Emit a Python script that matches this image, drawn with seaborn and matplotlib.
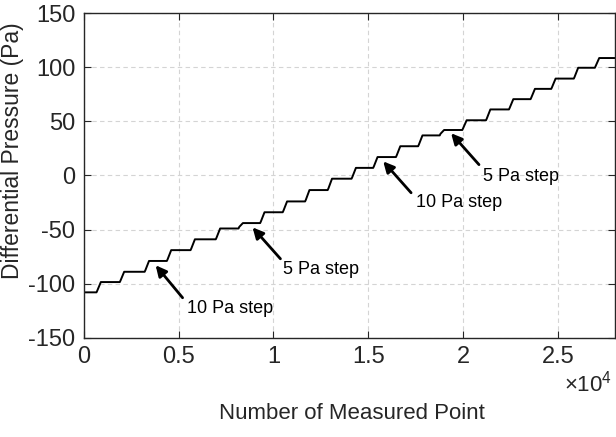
import matplotlib
matplotlib.use("Agg")
import matplotlib.pyplot as plt
import seaborn as sns

# pressure of each plateau (Pa)
levels = [-108, -98.5, -89, -79, -69, -59, -49, -44, -34, -24, -13.5, -3,
          7, 17, 27, 37, 42, 51, 61, 70.5, 80, 89.5, 99.5, 108.5]
# measured point where each plateau ends and the next rise begins
step_at = [670, 1900, 3210, 4380, 5630, 6960, 8160, 9300, 10490, 11670,
           12860, 14120, 15260, 16460, 17630, 18770, 19960, 21210, 22420,
           23560, 24650, 25840, 26950]
n_points = 28000

annot_text = ["10 Pa step", "5 Pa step", "10 Pa step", "5 Pa step"]
annot_tip = [(3790, -83), (8900, -48), (15790, 13), (19370, 39)]
annot_tail = [(5210, -113), (10370, -77), (17260, -16), (20840, 10)]
annot_pos = [(5420, -123), (10530, -87), (17530, -25), (21050, -1)]

xticks = [0, 5000, 10000, 15000, 20000, 25000]
xtick_labels = ["0", "0.5", "1", "1.5", "2", "2.5"]
yticks = [-150, -100, -50, 0, 50, 100, 150]


def staircase(levels, step_at, n_points):
    # corners of the step signal: small jump then a short ramp at each step
    xs, ys = [0], [levels[0]]
    for i, x in enumerate(step_at):
        xs += [x, x + 40, x + 230]
        ys += [levels[i], levels[i] + 1.5, levels[i + 1]]
    xs.append(n_points)
    ys.append(levels[-1])
    return xs, ys


def main():
    sns.set_style("whitegrid")
    plt.rcParams["font.family"] = ["Liberation Sans", "DejaVu Sans"]
    plt.rcParams["mathtext.fontset"] = "custom"
    plt.rcParams["mathtext.rm"] = "Liberation Sans"
    plt.rcParams["axes.unicode_minus"] = False

    fig = plt.figure(figsize=(6.16, 4.37), dpi=100)
    ax = fig.add_axes([0.136, 0.227, 0.862, 0.743])

    xs, ys = staircase(levels, step_at, n_points)
    sns.lineplot(x=xs, y=ys, color="black", linewidth=1.4, estimator=None,
                 sort=False, ax=ax)

    for txt, tip, tail, pos in zip(annot_text, annot_tip, annot_tail, annot_pos):
        ax.annotate("", xy=tip, xytext=tail,
                    arrowprops=dict(arrowstyle="-|>", color="black", lw=2,
                                    mutation_scale=16, shrinkA=0, shrinkB=0))
        ax.text(pos[0], pos[1], txt, fontsize=13, va="center", ha="left",
                color="black")

    ax.set_xlim(0, n_points)
    ax.set_ylim(-150, 150)
    ax.set_xticks(xticks)
    ax.set_xticklabels(xtick_labels)
    ax.set_yticks(yticks)

    ax.grid(True, linestyle=(0, (4, 3)), color="#d4d4d4", linewidth=0.8)
    for s in ax.spines.values():
        s.set_visible(True)
        s.set_color("#262626")
        s.set_linewidth(1.0)
    ax.tick_params(direction="in", top=True, right=True, bottom=True,
                   left=True, length=5, width=0.8, colors="#262626",
                   labelsize=17, pad=6)

    ax.set_xlabel("Number of Measured Point", fontsize=16, color="#262626")
    ax.xaxis.set_label_coords(0.505, -0.2)
    ax.set_ylabel("Differential Pressure (Pa)", fontsize=16.5, color="#262626")
    ax.yaxis.set_label_coords(-0.112, 0.575)
    ax.text(0.995, -0.14, r"$\times\mathregular{10^4}$", transform=ax.transAxes,
            ha="right", va="center", fontsize=16, color="#262626")

    fig.savefig("out.png", dpi=100)


if __name__ == "__main__":
    main()
